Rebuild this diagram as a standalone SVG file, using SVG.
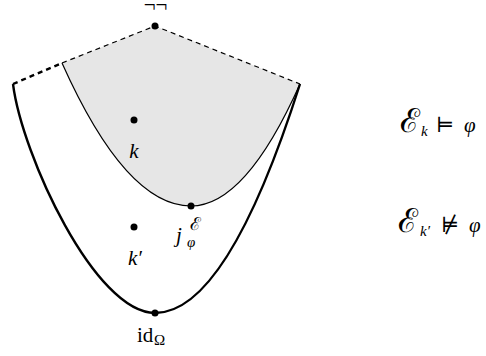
<svg xmlns="http://www.w3.org/2000/svg" width="486" height="356" viewBox="0 0 486 356">
<style>
.thick{fill:none;stroke:#000;stroke-width:2.4;stroke-linejoin:round}
.thin{fill:none;stroke:#000;stroke-width:1.2}
.dash{stroke-dasharray:5 4}
.dot{fill:#000}
.m{font-family:"Liberation Serif","DejaVu Serif",serif;font-style:italic;font-size:21px;fill:#000}
.r{font-family:"Liberation Serif","DejaVu Serif",serif;font-size:21px;fill:#000}
.s{font-size:15px}
.E{font-family:"DejaVu Serif",serif;font-style:normal;font-size:33px;fill:#000}
.Es{font-family:"DejaVu Serif",serif;font-style:normal;font-size:18px;fill:#000}
</style>
<g id="region">
<path d="M62,63 L155,26 L300,84 Q245.5,206 191,206 Q126,206 62,63 Z" fill="#e6e6e6" stroke="none"/>
</g>
<g id="connectors">
<path class="thick" d="M13,84 C22,155 95,313 155,313 Q227,313 300,84"/>
<path class="thin" d="M62,63 Q126,206 191,206 Q245.5,206 300,84"/>
<path class="thick dash" d="M13,84 L62,63"/>
<path class="thin dash" d="M62,63 L155,26 L300,84"/>
</g>
<g id="top">
<circle class="dot" cx="155" cy="26" r="3.5"/>
<text class="r" x="155.5" y="12" text-anchor="middle" font-size="26">¬¬</text>
</g>
<g id="k">
<circle class="dot" cx="134" cy="120" r="3.5"/>
<text class="m" x="134" y="158" text-anchor="middle">k</text>
</g>
<g id="kprime">
<circle class="dot" cx="134" cy="227" r="3.5"/>
<text class="m" x="135" y="265" text-anchor="middle">k′</text>
</g>
<g id="j">
<circle class="dot" cx="191" cy="206" r="3.5"/>
<text class="m" x="176" y="242">j</text>
<text class="Es" x="190" y="230">ℰ</text>
<text class="m s" x="187" y="247">φ</text>
</g>
<g id="id">
<circle class="dot" cx="155" cy="313" r="3.5"/>
<text class="r" x="137" y="342">id</text>
<text class="r s" x="154" y="345">Ω</text>
</g>
<g id="sat">
<text class="E" x="400" y="132">ℰ</text>
<text class="m s" x="421" y="136">k</text>
<text class="r" x="436" y="132">⊨</text>
<text class="m" x="464" y="132">φ</text>
</g>
<g id="nsat">
<text class="E" x="398" y="232">ℰ</text>
<text class="m s" x="420" y="236">k′</text>
<text class="r" x="441" y="232">⊭</text>
<text class="m" x="469" y="232">φ</text>
</g>
</svg>
